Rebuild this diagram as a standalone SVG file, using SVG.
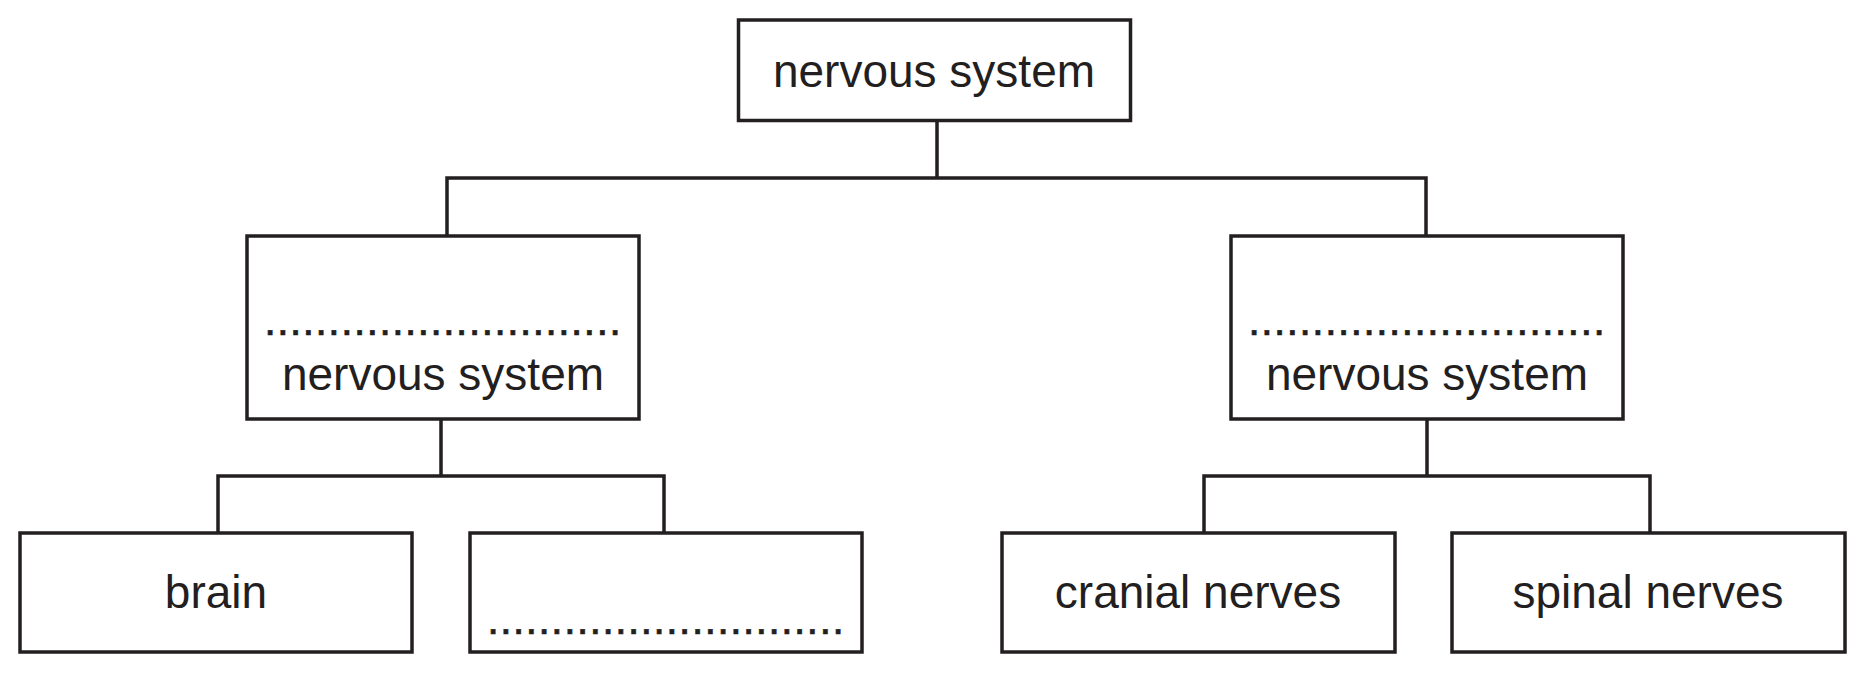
<svg xmlns="http://www.w3.org/2000/svg" width="1866" height="673" viewBox="0 0 1866 673">
  <style>
    .box { fill: #ffffff; stroke: #231f20; stroke-width: 3.5; }
    .conn { fill: none; stroke: #231f20; stroke-width: 3.5; stroke-linejoin: miter; stroke-linecap: square; }
    .lbl { font-family: "Liberation Sans", Arial, sans-serif; font-size: 46px; fill: #231f20; text-anchor: middle; }
    .dots { font-family: "Liberation Sans", Arial, sans-serif; font-size: 44px; fill: #231f20; stroke: #231f20; stroke-width: 0.6; letter-spacing: 0.55px; }
  </style>
  <rect width="1866" height="673" fill="#ffffff"/>
  <g id="connectors">
    <path class="conn" d="M937 121 V178 M447 236 V178 H1426 V236"/>
    <path class="conn" d="M441 419 V476 M218 533 V476 H664 V533"/>
    <path class="conn" d="M1427 419 V476 M1204 533 V476 H1650 V533"/>
  </g>
  <g id="node-nervous-system">
    <rect class="box" x="738.5" y="20" width="392" height="100.5"/>
    <text class="lbl" x="934" y="87">nervous system</text>
  </g>
  <g id="node-left-blank">
    <rect class="box" x="247" y="236" width="392" height="183"/>
    <text class="dots" x="264" y="335">............................</text>
    <text class="lbl" x="443" y="390">nervous system</text>
  </g>
  <g id="node-right-blank">
    <rect class="box" x="1231" y="236" width="392" height="183"/>
    <text class="dots" x="1248" y="335">............................</text>
    <text class="lbl" x="1427" y="390">nervous system</text>
  </g>
  <g id="node-brain">
    <rect class="box" x="20" y="533" width="392" height="119"/>
    <text class="lbl" x="216" y="608">brain</text>
  </g>
  <g id="node-blank">
    <rect class="box" x="470" y="533" width="392" height="119"/>
    <text class="dots" x="487" y="634">............................</text>
  </g>
  <g id="node-cranial">
    <rect class="box" x="1002" y="533" width="393" height="119"/>
    <text class="lbl" x="1198" y="608">cranial nerves</text>
  </g>
  <g id="node-spinal">
    <rect class="box" x="1452" y="533" width="393" height="119"/>
    <text class="lbl" x="1648" y="608">spinal nerves</text>
  </g>
</svg>
